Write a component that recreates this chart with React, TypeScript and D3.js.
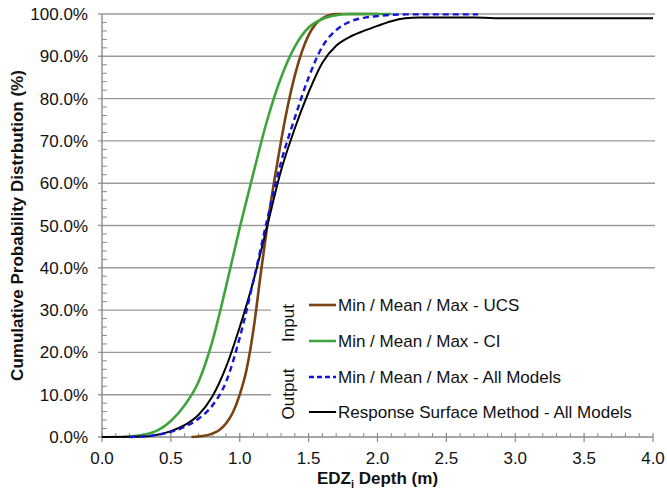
import React, { useEffect, useRef } from 'react';
import * as d3 from 'd3';

// depth (m) vs cumulative probability (%)
const UCS_CDF: [number, number][] = [
  [0.65, 0], [0.7, 0.1], [0.8, 0.8], [0.85, 1.6], [0.9, 3.2], [0.95, 5.8],
  [1.0, 10], [1.05, 16], [1.1, 25.5], [1.15, 38], [1.2, 50], [1.25, 60.5],
  [1.3, 70], [1.35, 78.5], [1.4, 85.5], [1.45, 91], [1.5, 95], [1.55, 97.6],
  [1.6, 99], [1.65, 99.7], [1.7, 100], [2.0, 100],
];
const CI_CDF: [number, number][] = [
  [0.15, 0], [0.2, 0.1], [0.3, 0.5], [0.4, 1.5], [0.5, 3.8], [0.6, 7.5],
  [0.7, 13], [0.8, 22.5], [0.9, 35.5], [1.0, 49.5], [1.1, 62.5], [1.2, 75],
  [1.3, 85], [1.4, 92.3], [1.5, 96.8], [1.6, 98.8], [1.7, 99.7], [1.8, 100], [2.1, 100],
];
const ALL_MODELS_CDF: [number, number][] = [
  [0.2, 0], [0.3, 0.15], [0.4, 0.5], [0.5, 1.2], [0.6, 2.4], [0.7, 4.3],
  [0.8, 7.4], [0.9, 13], [1.0, 23.5], [1.1, 37], [1.2, 51.5], [1.3, 65],
  [1.4, 75.5], [1.5, 85], [1.6, 92.3], [1.7, 96.2], [1.8, 98.2], [1.9, 99.1],
  [2.0, 99.5], [2.1, 99.8], [2.2, 99.9], [2.73, 99.9],
];
const RSM_CDF: [number, number][] = [
  [0, 0], [0.3, 0.1], [0.4, 0.5], [0.5, 1.4], [0.6, 2.8], [0.7, 5.2],
  [0.8, 9.5], [0.9, 16.5], [1.0, 26], [1.1, 37], [1.2, 50], [1.3, 63],
  [1.4, 73], [1.5, 81.5], [1.6, 88.5], [1.7, 92.5], [1.8, 94.6], [1.9, 96],
  [2.0, 97.2], [2.1, 98.3], [2.2, 99.0], [2.3, 99.2], [2.7, 99.2], [2.85, 99.0], [4.0, 99.0],
];

const SERIES_NAMES = [
  'Min / Mean / Max - UCS',
  'Min / Mean / Max - CI',
  'Min / Mean / Max - All Models',
  'Response Surface Method - All Models',
];
const GROUP_NAMES = ['Input', 'Output'];

const X_TICKS = [0, 0.5, 1, 1.5, 2, 2.5, 3, 3.5, 4];
const Y_TICKS = [0, 10, 20, 30, 40, 50, 60, 70, 80, 90, 100];

const FONT = '"Liberation Sans", Arial, Helvetica, sans-serif';

const Chart = () => {
  const svgRef = useRef<SVGSVGElement>(null);

  useEffect(() => {
    const W = 667;
    const H = 492;
    const left = 102;
    const right = 653;
    const top = 14;
    const bottom = 437;

    const svg = d3.select(svgRef.current).attr('width', W).attr('height', H);
    svg.selectAll('*').remove();

    const x = d3.scaleLinear().domain([0, 4]).range([left, right]);
    const y = d3.scaleLinear().domain([0, 100]).range([bottom, top]);

    // horizontal gridlines
    svg.append('g')
      .selectAll('line')
      .data(Y_TICKS.filter((d) => d > 0))
      .enter()
      .append('line')
      .attr('x1', left - 4)
      .attr('x2', right + 2)
      .attr('y1', (d) => y(d))
      .attr('y2', (d) => y(d))
      .attr('stroke', '#9a9a9a')
      .attr('stroke-width', 1.4);

    // legend background hides part of the grid
    svg.append('rect')
      .attr('x', 271).attr('y', 286)
      .attr('width', right + 4 - 271).attr('height', 146)
      .attr('fill', '#fff');

    const axisColor = '#8a8a8a';
    // y axis + minor ticks every 2%
    svg.append('line')
      .attr('x1', left).attr('x2', left).attr('y1', top).attr('y2', bottom)
      .attr('stroke', axisColor).attr('stroke-width', 1.4);
    svg.append('g')
      .selectAll('line')
      .data(d3.range(0, 101, 2).filter((d) => d % 10 !== 0))
      .enter()
      .append('line')
      .attr('x1', left).attr('x2', left + 5)
      .attr('y1', (d) => y(d)).attr('y2', (d) => y(d))
      .attr('stroke', axisColor).attr('stroke-width', 1);
    svg.append('line')
      .attr('x1', left - 4).attr('x2', left).attr('y1', bottom).attr('y2', bottom)
      .attr('stroke', axisColor).attr('stroke-width', 1.4);

    // x axis + minor ticks every 0.1
    svg.append('line')
      .attr('x1', left).attr('x2', right).attr('y1', bottom).attr('y2', bottom)
      .attr('stroke', axisColor).attr('stroke-width', 1.4);
    svg.append('g')
      .selectAll('line')
      .data(d3.range(1, 40).filter((d) => d % 5 !== 0).map((d) => d / 10))
      .enter()
      .append('line')
      .attr('x1', (d) => x(d)).attr('x2', (d) => x(d))
      .attr('y1', bottom - 4).attr('y2', bottom)
      .attr('stroke', axisColor).attr('stroke-width', 1);
    svg.append('g')
      .selectAll('line')
      .data(X_TICKS)
      .enter()
      .append('line')
      .attr('x1', (d) => x(d)).attr('x2', (d) => x(d))
      .attr('y1', bottom - 4).attr('y2', bottom + 5)
      .attr('stroke', axisColor).attr('stroke-width', 1.2);

    // tick labels
    svg.append('g')
      .selectAll('text')
      .data(X_TICKS)
      .enter()
      .append('text')
      .attr('x', (d) => x(d))
      .attr('y', 464)
      .attr('text-anchor', 'middle')
      .attr('font-family', FONT)
      .attr('font-size', 17)
      .attr('fill', '#111')
      .text((d) => d.toFixed(1));

    svg.append('g')
      .selectAll('text')
      .data(Y_TICKS)
      .enter()
      .append('text')
      .attr('x', 88)
      .attr('y', (d) => y(d) + 6)
      .attr('text-anchor', 'end')
      .attr('font-family', FONT)
      .attr('font-size', 17)
      .attr('fill', '#111')
      .text((d) => d.toFixed(1) + '%');

    // axis titles
    const xt = svg.append('text')
      .attr('x', (left + right) / 2)
      .attr('y', 484)
      .attr('text-anchor', 'middle')
      .attr('font-family', FONT)
      .attr('font-size', 17)
      .attr('font-weight', 'bold')
      .attr('fill', '#111');
    xt.append('tspan').text('EDZ');
    xt.append('tspan').attr('font-size', 11).attr('dy', 4).text('i');
    xt.append('tspan').attr('dy', -4).text(' Depth (m)');

    svg.append('text')
      .attr('transform', `translate(23,${(top + bottom) / 2}) rotate(-90)`)
      .attr('text-anchor', 'middle')
      .attr('font-family', FONT)
      .attr('font-size', 17)
      .attr('font-weight', 'bold')
      .attr('fill', '#111')
      .text('Cumulative Probability Distrbution (%)');

    // curves
    const line = d3.line<[number, number]>()
      .x((d) => x(d[0]))
      .y((d) => y(d[1]))
      .curve(d3.curveMonotoneX);

    const series = [UCS_CDF, CI_CDF, ALL_MODELS_CDF, RSM_CDF];
    const styles = [
      { color: '#7a4212', width: 2.6, dash: null },
      { color: '#3ea53e', width: 2.6, dash: null },
      { color: '#1414d8', width: 2.4, dash: '6,4' },
      { color: '#000000', width: 2, dash: null },
    ];
    const drawOrder = [0, 1, 3, 2];

    drawOrder.forEach((i) => {
      const s = styles[i];
      const p = svg.append('path')
        .datum(series[i])
        .attr('d', line)
        .attr('fill', 'none')
        .attr('stroke', s.color)
        .attr('stroke-width', s.width);
      if (s.dash) p.attr('stroke-dasharray', s.dash);
    });

    // legend
    const rowsY = [305, 341, 377, 412];
    const legend = svg.append('g');
    SERIES_NAMES.forEach((name, i) => {
      const s = styles[i];
      const l = legend.append('line')
        .attr('x1', 309).attr('x2', 336)
        .attr('y1', rowsY[i]).attr('y2', rowsY[i])
        .attr('stroke', s.color)
        .attr('stroke-width', s.width);
      if (s.dash) l.attr('stroke-dasharray', '5,3');
      legend.append('text')
        .attr('x', 338)
        .attr('y', rowsY[i] + 6)
        .attr('font-family', FONT)
        .attr('font-size', 17)
        .attr('fill', '#111')
        .text(name);
    });
    const groupY = [323, 394];
    GROUP_NAMES.forEach((g, i) => {
      legend.append('text')
        .attr('transform', `translate(294,${groupY[i]}) rotate(-90)`)
        .attr('text-anchor', 'middle')
        .attr('font-family', FONT)
        .attr('font-size', 17)
        .attr('fill', '#111')
        .text(g);
    });
  }, []);

  return <svg ref={svgRef} style={{ position: 'absolute', left: 0, top: 0 }}></svg>;
};

export default function App() {
  return <Chart />;
}
